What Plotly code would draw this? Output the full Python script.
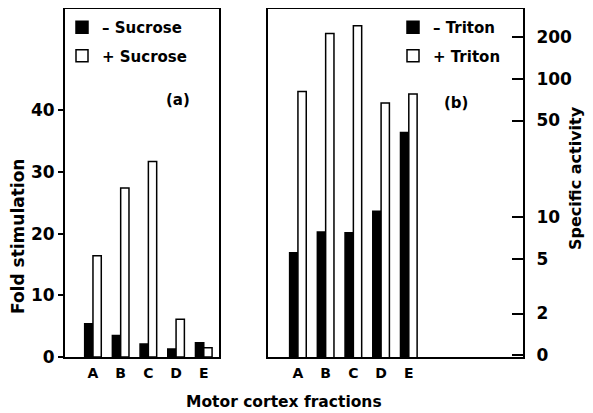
import plotly.graph_objects as go

# The page body has an 8 px margin, so the figure is drawn 8 px in and made 8 px smaller.
OFF = 8
W, H = 593 - OFF, 413 - OFF

fractions = ["A", "B", "C", "D", "E"]
minus_sucrose = [5.4, 3.5, 2.1, 1.3, 2.3]
plus_sucrose = [16.4, 27.4, 31.7, 6.1, 1.5]
minus_triton = [5.5, 7.8, 7.7, 11.0, 41.0]
plus_triton = [81.0, 214.0, 243.0, 67.0, 78.0]

left_ticks = [0, 10, 20, 30, 40]
right_tickvals = [1, 2, 5, 10, 50, 100, 200]
right_ticktext = ["0", "2", "5", "10", "50", "100", "200"]

FONT = "DejaVu Sans"
WEIGHT = "bold"

def px(x):
    return (x - OFF) / W

def py(y):
    return 1 - (y - OFF) / H

fig = go.Figure()

line = dict(color="black", width=1.5)
fig.add_trace(go.Bar(x=fractions, y=minus_sucrose, name="– Sucrose",
                     marker=dict(color="black", line=line),
                     xaxis="x", yaxis="y", legend="legend", legendgroup="s1"))
fig.add_trace(go.Bar(x=fractions, y=plus_sucrose, name="+ Sucrose",
                     marker=dict(color="white", line=line),
                     xaxis="x", yaxis="y", legend="legend", legendgroup="s2"))
fig.add_trace(go.Bar(x=fractions, y=minus_triton, name="– Triton",
                     marker=dict(color="black", line=line),
                     xaxis="x2", yaxis="y2", legend="legend2", legendgroup="t1"))
fig.add_trace(go.Bar(x=fractions, y=plus_triton, name="+ Triton",
                     marker=dict(color="white", line=line),
                     xaxis="x2", yaxis="y2", legend="legend2", legendgroup="t2"))

ydom = [py(357), py(9)]
axis_common = dict(showline=True, linecolor="black", linewidth=2, mirror=True,
                   showgrid=False, zeroline=False)

fig.update_layout(
    width=W, height=H,
    margin=dict(l=0, r=0, t=0, b=0),
    paper_bgcolor="white", plot_bgcolor="white",
    font=dict(family=FONT, size=16, color="black", weight=WEIGHT),
    barmode="group", bargap=0.4, bargroupgap=0,
    xaxis=dict(domain=[px(65), px(219)], type="category",
               range=[-1.01, 4.55], ticks="", ticklabelstandoff=2,
               tickfont=dict(size=14, weight=WEIGHT), anchor="y", automargin=False, **axis_common),
    yaxis=dict(domain=ydom, range=[0, 56.4], tickvals=left_ticks,
               ticks="outside", ticklen=5, tickwidth=2, tickcolor="black",
               tickfont=dict(size=17, weight=WEIGHT), anchor="x", automargin=False, **axis_common),
    xaxis2=dict(domain=[px(268), px(523)], type="category",
                range=[-1.08, 8.12], ticks="", ticklabelstandoff=2,
                tickfont=dict(size=14, weight=WEIGHT), anchor="y2", automargin=False, **axis_common),
    yaxis2=dict(domain=ydom, type="log", range=[-0.014, 2.507],
                tickvals=right_tickvals, ticktext=right_ticktext,
                side="right", ticks="inside", ticklen=11, tickwidth=2,
                tickcolor="black", ticklabelstandoff=8,
                tickfont=dict(size=17, weight=WEIGHT), anchor="x2", automargin=False, **axis_common),
    legend=dict(x=px(62), y=py(11), xanchor="left", yanchor="top",
                bgcolor="rgba(0,0,0,0)", font=dict(size=15, weight=WEIGHT),
                traceorder="grouped", tracegroupgap=6, itemwidth=30),
    legend2=dict(x=px(393), y=py(11), xanchor="left", yanchor="top",
                 bgcolor="rgba(0,0,0,0)", font=dict(size=15, weight=WEIGHT),
                 traceorder="grouped", tracegroupgap=6, itemwidth=30),
    showlegend=True,
)

def note(text, x, y, size, angle=0):
    fig.add_annotation(text=text, x=px(x), y=py(y), xref="paper", yref="paper",
                       xanchor="center", yanchor="middle", textangle=angle,
                       showarrow=False, font=dict(size=size, weight=WEIGHT))

note("(a)", 178, 100, 15)
note("(b)", 456, 103, 15)
note("Fold stimulation", 18, 237, 17, -90)
note("Specific activity", 575, 178, 16, -90)
note("Motor cortex fractions", 284, 402, 15.5)

fig.write_html("out.html")
